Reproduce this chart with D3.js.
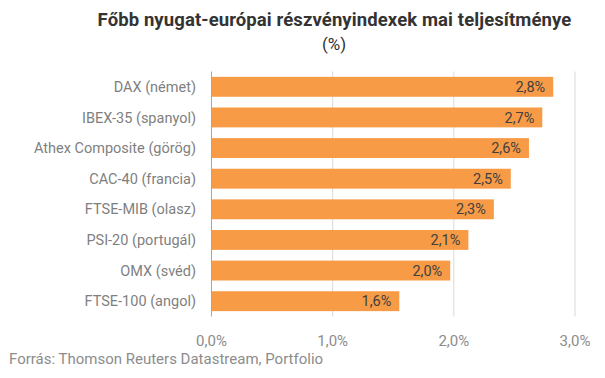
<!DOCTYPE html>
<html><head><meta charset="utf-8">
<script src="https://cdn.jsdelivr.net/npm/d3@7"></script>
<style>
body{margin:0;background:#fff;}
text{font-family:Roboto,"Noto Sans",sans-serif;}
</style></head>
<body><svg id="c" width="605" height="378"></svg>
<script>
const categories = ["DAX (német)","IBEX-35 (spanyol)","Athex Composite (görög)","CAC-40 (francia)","FTSE-MIB (olasz)","PSI-20 (portugál)","OMX (svéd)","FTSE-100 (angol)"];
const values = [2.82,2.73,2.62,2.47,2.33,2.12,1.97,1.55];
const valueLabels = ["2,8%","2,7%","2,6%","2,5%","2,3%","2,1%","2,0%","1,6%"];
const tickValues = [0,1,2,3];
const tickLabels = ["0,0%","1,0%","2,0%","3,0%"];
const title = "Főbb nyugat-európai részvényindexek mai teljesítménye";
const subtitle = "(%)";
const source = "Forrás: Thomson Reuters Datastream, Portfolio";

const svg = d3.select("#c");
const x = d3.scaleLinear().domain([0,3]).range([211.5,575]);
const y = d3.scaleBand().domain(categories).range([71.5,316.5]).paddingInner(0.35).paddingOuter(0.175);

// gridlines
svg.append("g").selectAll("line").data(tickValues.slice(1)).join("line")
  .attr("x1",d=>x(d)).attr("x2",d=>x(d)).attr("y1",71.5).attr("y2",316.5)
  .attr("stroke","#d9d9d9").attr("stroke-width",1);

// bars
svg.append("g").selectAll("rect").data(values).join("rect")
  .attr("x",x(0)).attr("y",(d,i)=>y(categories[i]))
  .attr("width",d=>x(d)-x(0)).attr("height",y.bandwidth())
  .attr("fill","#f79b47");

// zero axis line
svg.append("line").attr("x1",x(0)).attr("x2",x(0)).attr("y1",71.5).attr("y2",316.5)
  .attr("stroke","#a6a6a6").attr("stroke-width",1);

// value labels
svg.append("g").selectAll("text").data(values).join("text")
  .attr("x",d=>x(d)-8).attr("y",(d,i)=>y(categories[i])+y.bandwidth()/2)
  .attr("dy","0.35em").attr("text-anchor","end")
  .attr("font-size",14.5).attr("fill","#404040")
  .text((d,i)=>valueLabels[i]);

// category labels
svg.append("g").selectAll("text").data(categories).join("text")
  .attr("x",196).attr("y",d=>y(d)+y.bandwidth()/2).attr("dy","0.35em")
  .attr("text-anchor","end").attr("font-size",14.5).attr("fill","#7f7f7f")
  .text(d=>d);

// x tick labels
svg.append("g").selectAll("text").data(tickValues).join("text")
  .attr("x",d=>x(d)).attr("y",346).attr("text-anchor","middle")
  .attr("font-size",15).attr("fill","#8c8c8c")
  .text((d,i)=>tickLabels[i]);

// title
svg.append("text").attr("x",334.5).attr("y",26).attr("text-anchor","middle")
  .attr("font-size",18.5).attr("font-weight","bold").attr("fill","#333")
  .attr("letter-spacing","0.1").text(title);
svg.append("text").attr("x",334).attr("y",50).attr("text-anchor","middle")
  .attr("font-size",17).attr("fill","#333").text(subtitle);

// source
svg.append("text").attr("x",9).attr("y",364).attr("font-size",15)
  .attr("fill","#8c8c8c").text(source);
</script></body></html>
